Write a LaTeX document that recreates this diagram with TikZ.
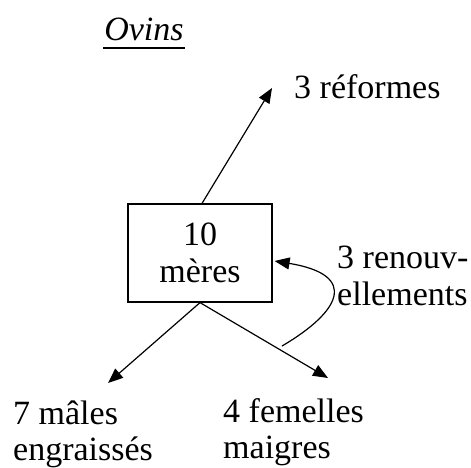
\documentclass[tikz,border=0pt]{standalone}
\usepackage{fontspec}
\setmainfont{Liberation Serif}
\usetikzlibrary{arrows.meta}
\begin{document}
\begin{tikzpicture}[x=1pt,y=-1pt,
  lbl/.style={font=\fontsize{34}{36}\selectfont, inner sep=0pt, align=left},
  conn/.style={line width=1.2pt, -{Triangle[length=15pt,width=12pt]}}]
\useasboundingbox (0,0) rectangle (471,467);
\node[lbl, anchor=base] (title) at (144,40) {\textit{Ovins}};
\draw[line width=1.4pt] ([xshift=-1pt,yshift=-8pt]title.base west) -- ([xshift=1pt,yshift=-8pt]title.base east);
\node[draw, line width=1.2pt, minimum width=144pt, minimum height=98pt, inner sep=0pt,
  font=\fontsize{34}{37}\selectfont, align=center] (box) at (200,253) {10\\mères};
\node[lbl, anchor=base west] (ref) at (294,98) {3 réformes};
\node[lbl, anchor=base west, font=\fontsize{34}{37}\selectfont] (ren) at (337,305) {3 renouv-\\ellements};
\node[lbl, anchor=base west] (male) at (13,460) {7 mâles\\engraissés};
\node[lbl, anchor=base west] (fem) at (223,458) {4 femelles\\maigres};
\coordinate (tref) at (272,88);
\coordinate (tmale) at (108,383);
\coordinate (tfem) at (328,378);
\coordinate (cstart) at (282,346);
\draw[conn] ([xshift=2pt]box.north) -- (tref);
\draw[conn] (box.south) -- (tmale);
\draw[conn] (box.south) -- (tfem);
\draw[conn] (cstart) .. controls (340,312) and (360,275) .. ([xshift=2pt,yshift=-8pt]box.east);
\end{tikzpicture}
\end{document}
